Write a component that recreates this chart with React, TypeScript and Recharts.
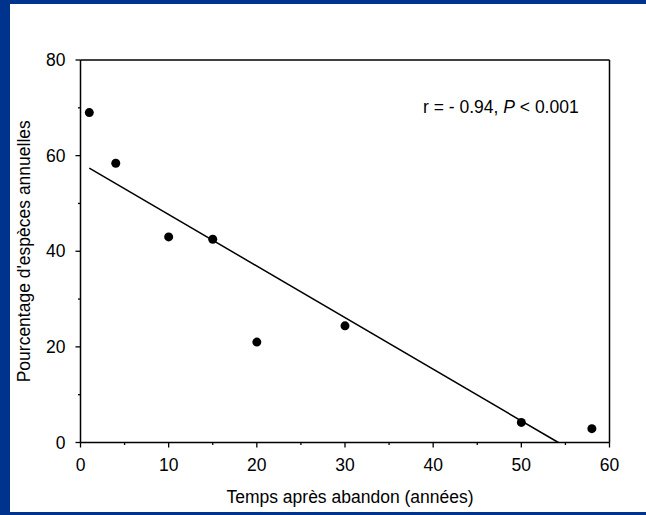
import React from 'react';
import { ScatterChart, Scatter, XAxis, YAxis, ReferenceLine, Label } from 'recharts';

// ---- data ----
const timeYears = [1, 4, 10, 15, 20, 30, 50, 58];
const annualPct = [69, 58.4, 43.0, 42.5, 21.0, 24.4, 4.2, 2.9];
const fitX = [1, 54.2];
const fitY = [57.4, 0];
const xTicks = [0, 5, 10, 15, 20, 25, 30, 35, 40, 45, 50, 55, 60];
const yTicks = [0, 10, 20, 30, 40, 50, 60, 70, 80];
const xTitle = 'Temps après abandon (années)';
const yTitle = "Pourcentage d'espèces annuelles";

const points = timeYears.map((x, i) => ({ x, y: annualPct[i] }));
const fitLine = fitX.map((x, i) => ({ x, y: fitY[i] }));

const FONT = '"Liberation Sans", Arial, Helvetica, sans-serif';
const FS = 17.5;
const BLUE = '#00338E';

const XTick = (props: any) => {
  const { x, y, payload } = props;
  const v = payload.value;
  const major = v % 10 === 0;
  return (
    <g>
      <line x1={x} x2={x} y1={y} y2={y + (major ? 5 : 2.5)} stroke="#000" strokeWidth={1.3} />
      {major && (
        <text x={x} y={y + 28.5} textAnchor="middle" fontSize={FS} fontFamily={FONT} fill="#000">
          {v}
        </text>
      )}
    </g>
  );
};

const YTick = (props: any) => {
  const { x, y, payload } = props;
  const v = payload.value;
  const major = v % 20 === 0;
  return (
    <g>
      <line x1={x} x2={x - (major ? 5 : 2.5)} y1={y} y2={y} stroke="#000" strokeWidth={1.3} />
      {major && (
        <text x={x - 15} y={y + 6} textAnchor="end" fontSize={FS} fontFamily={FONT} fill="#000">
          {v}
        </text>
      )}
    </g>
  );
};

const XTitle = (props: any) => {
  const vb = props.viewBox || { x: 80.5, y: 442.5, width: 529, height: 30 };
  return (
    <text x={vb.x + vb.width / 2 + 5} y={vb.y + 60.5} textAnchor="middle" fontSize={FS} fontFamily={FONT} fill="#000">
      {xTitle}
    </text>
  );
};

const YTitle = (props: any) => {
  const vb = props.viewBox || { x: 40.5, y: 60, width: 40, height: 382.5 };
  const cx = vb.x + vb.width - 50.5;
  const cy = vb.y + vb.height / 2;
  return (
    <text x={cx} y={cy} transform={`rotate(-90 ${cx} ${cy})`} textAnchor="middle" fontSize={FS} fontFamily={FONT} fill="#000">
      {yTitle}
    </text>
  );
};

export default function App() {
  return (
    <div style={{ position: 'absolute', left: 0, top: 0, width: 646, height: 515, background: '#fff', overflow: 'hidden' }}>
      <div style={{ position: 'absolute', left: 0, top: 0, width: 10, height: 515, background: BLUE }} />
      <div style={{ position: 'absolute', left: 0, top: 0, width: 646, height: 4, background: BLUE }} />
      <div style={{ position: 'absolute', left: 0, top: 512, width: 646, height: 3, background: BLUE }} />
      <div style={{ position: 'absolute', left: 0, top: 0 }}>
        <ScatterChart width={646} height={515} margin={{ top: 60, right: 36.5, left: 40.5, bottom: 42.5 }}>
          <XAxis
            type="number"
            dataKey="x"
            domain={[0, 60]}
            ticks={xTicks}
            interval={0}
            height={30}
            tickSize={0}
            tickMargin={0}
            tickLine={false}
            tick={<XTick />}
            axisLine={{ stroke: '#000', strokeWidth: 1.5 }}
          >
            <Label content={<XTitle />} />
          </XAxis>
          <YAxis
            type="number"
            dataKey="y"
            domain={[0, 80]}
            ticks={yTicks}
            interval={0}
            width={40}
            tickSize={0}
            tickMargin={0}
            tickLine={false}
            tick={<YTick />}
            axisLine={{ stroke: '#000', strokeWidth: 1.5 }}
          >
            <Label content={<YTitle />} />
          </YAxis>
          <ReferenceLine y={80} stroke="#000" strokeWidth={1.5} />
          <ReferenceLine x={60} stroke="#000" strokeWidth={1.5} />
          <Scatter
            data={fitLine}
            line={{ stroke: '#000', strokeWidth: 1.5 }}
            shape={() => <g />}
            isAnimationActive={false}
          />
          <Scatter
            data={points}
            fill="#000"
            shape={(p: any) => <circle cx={p.cx} cy={p.cy} r={4.5} fill="#000" />}
            isAnimationActive={false}
          />
        </ScatterChart>
      </div>
      <svg width={646} height={515} style={{ position: 'absolute', left: 0, top: 0, pointerEvents: 'none' }}>
        <text x={423} y={112.5} fontSize={FS} fontFamily={FONT} fill="#000">
          r = - 0.94, <tspan fontStyle="italic">P</tspan> &lt; 0.001
        </text>
      </svg>
    </div>
  );
}
